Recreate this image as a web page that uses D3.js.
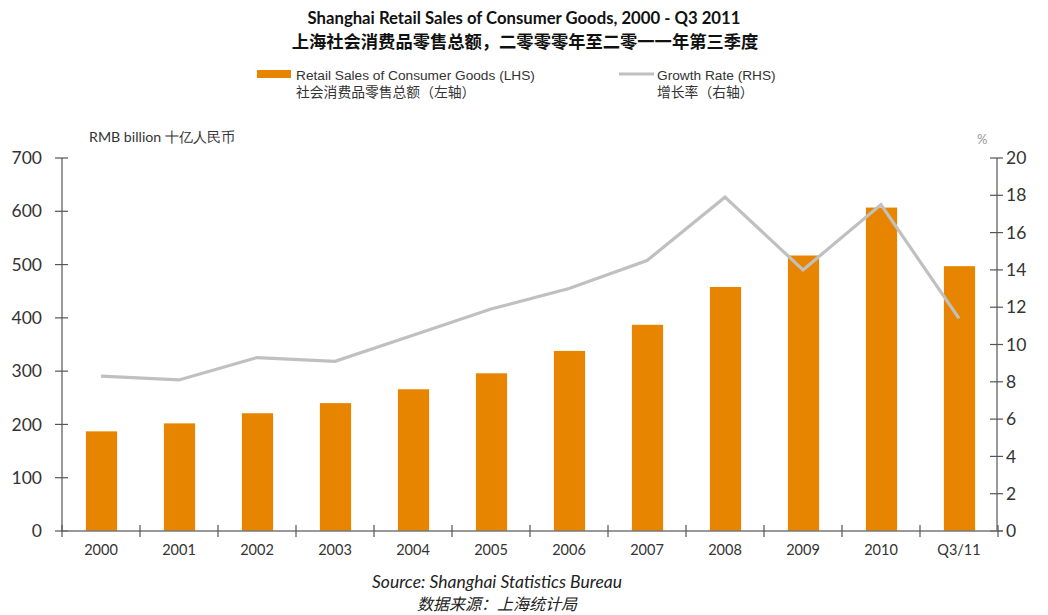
<!DOCTYPE html>
<html><head><meta charset="utf-8">
<script src="https://cdn.jsdelivr.net/npm/d3@7"></script>
<style>body{margin:0;background:#fff}svg{display:block}</style>
</head><body><svg id="c" width="1048" height="615"></svg>
<script>
const categories = ["2000","2001","2002","2003","2004","2005","2006","2007","2008","2009","2010","Q3/11"];
const salesValues = [187, 202, 221, 240, 266, 296, 338, 387, 458, 517, 607, 497];
const growthValues = [8.3, 8.1, 9.3, 9.1, 10.5, 11.9, 13.0, 14.5, 17.9, 14.0, 17.5, 11.4];
const leftTicks = [0,100,200,300,400,500,600,700];
const rightTicks = [0,2,4,6,8,10,12,14,16,18,20];

const svg = d3.select("#c");
const L = 62, R = 998, T = 158, B = 531;
const x = d3.scaleBand().domain(categories).range([L, R]).paddingInner(0).paddingOuter(0);
const yL = d3.scaleLinear().domain([0,700]).range([B, T]);
const yR = d3.scaleLinear().domain([0,20]).range([B, T]);
const latin = "Lato, 'Noto Sans', sans-serif";
const cjk = "'Noto Sans CJK SC', sans-serif";

// Title
svg.append("text").attr("x",524).attr("y",24).attr("text-anchor","middle")
  .attr("font-family",latin).attr("font-weight","bold").attr("font-size",16.7).attr("fill","#111")
  .text("Shanghai Retail Sales of Consumer Goods, 2000 - Q3 2011");
svg.append("text").attr("x",525).attr("y",48).attr("text-anchor","middle")
  .attr("font-family",cjk).attr("font-weight","bold").attr("font-size",17.3).attr("fill","#111")
  .text("上海社会消费品零售总额，二零零零年至二零一一年第三季度");

// Legend
svg.append("rect").attr("x",257).attr("y",70).attr("width",34).attr("height",8).attr("fill","#E88500");
svg.append("text").attr("x",296).attr("y",80).attr("font-family","'Liberation Sans', Arial, sans-serif")
  .attr("font-size",13.7).attr("fill","#333").text("Retail Sales of Consumer Goods (LHS)");
svg.append("text").attr("x",296).attr("y",97).attr("font-family",cjk)
  .attr("font-size",13.8).attr("fill","#333").text("社会消费品零售总额（左轴）");
svg.append("line").attr("x1",619).attr("x2",654).attr("y1",74).attr("y2",74).attr("stroke","#C0C0C0").attr("stroke-width",3);
svg.append("text").attr("x",657).attr("y",80).attr("font-family","'Liberation Sans', Arial, sans-serif")
  .attr("font-size",13.7).attr("fill","#333").text("Growth Rate (RHS)");
svg.append("text").attr("x",657).attr("y",97).attr("font-family",cjk)
  .attr("font-size",13.8).attr("fill","#333").text("增长率（右轴）");

// Axis titles
svg.append("text").attr("x",89).attr("y",142).attr("font-family",latin).attr("font-size",14.2).attr("fill","#333")
  .text("RMB billion 十亿人民币");
svg.append("text").attr("x",977).attr("y",144).attr("font-family",latin).attr("font-size",13).attr("fill","#999")
  .text("%");

// Bars
const bw = x.bandwidth()*0.4;
svg.append("g").selectAll("rect").data(categories).join("rect")
  .attr("x", d => x(d) + x.bandwidth()/2 - bw/2 + 0.5)
  .attr("width", bw)
  .attr("y", (d,i) => yL(salesValues[i]))
  .attr("height", (d,i) => B - yL(salesValues[i]))
  .attr("fill","#E88500");

// Line
const line = d3.line().x((d,i) => x(categories[i]) + x.bandwidth()/2).y(d => yR(d));
svg.append("path").datum(growthValues).attr("d", line).attr("fill","none")
  .attr("stroke","#C0C0C0").attr("stroke-width",3.2).attr("stroke-linejoin","miter");

// Left axis
const axisColor = "#555";
const gL = svg.append("g");
gL.append("line").attr("x1",L).attr("x2",L).attr("y1",T).attr("y2",B).attr("stroke",axisColor).attr("stroke-width",1.2);
gL.selectAll("line.t").data(leftTicks).join("line").attr("class","t")
  .attr("x1",L-7).attr("x2",L+6).attr("y1",d=>yL(d)).attr("y2",d=>yL(d)).attr("stroke",axisColor).attr("stroke-width",1.2);
gL.selectAll("text").data(leftTicks).join("text")
  .attr("x",42).attr("y",d=>yL(d)).attr("dy","0.35em").attr("text-anchor","end")
  .attr("font-family",latin).attr("font-size",17.5).attr("fill","#333").text(d=>d);

// Right axis
const gR = svg.append("g");
gR.append("line").attr("x1",R-1).attr("x2",R-1).attr("y1",T).attr("y2",B).attr("stroke",axisColor).attr("stroke-width",1.2);
gR.selectAll("line.t").data(rightTicks).join("line").attr("class","t")
  .attr("x1",R-8).attr("x2",R+5).attr("y1",d=>yR(d)).attr("y2",d=>yR(d)).attr("stroke",axisColor).attr("stroke-width",1.2);
gR.selectAll("text").data(rightTicks).join("text")
  .attr("x",1006).attr("y",d=>yR(d)).attr("dy","0.35em").attr("text-anchor","start")
  .attr("font-family",latin).attr("font-size",17.5).attr("fill","#333").text(d=>d);

// Bottom axis
const gB = svg.append("g");
gB.append("line").attr("x1",L).attr("x2",R+5).attr("y1",B).attr("y2",B).attr("stroke","#777").attr("stroke-width",1.5);
const bTicks = categories.map(c => x(c)).concat([R]);
gB.selectAll("line.t").data(bTicks).join("line").attr("class","t")
  .attr("x1",d=>d).attr("x2",d=>d).attr("y1",B-6).attr("y2",B+6).attr("stroke",axisColor).attr("stroke-width",1.2);
gB.selectAll("text").data(categories).join("text")
  .attr("x",d=>x(d)+x.bandwidth()/2).attr("y",555).attr("text-anchor","middle")
  .attr("font-family",latin).attr("font-size",14.5).attr("fill","#333").text(d=>d);

// Source
svg.append("text").attr("x",497).attr("y",588).attr("text-anchor","middle")
  .attr("font-family",latin).attr("font-style","italic").attr("font-size",17.5).attr("fill","#222")
  .text("Source: Shanghai Statistics Bureau");
svg.append("text").attr("x",497).attr("y",610).attr("text-anchor","middle")
  .attr("font-family",cjk).attr("font-style","italic").attr("font-size",16).attr("fill","#222")
  .text("数据来源：上海统计局");
</script></body></html>
